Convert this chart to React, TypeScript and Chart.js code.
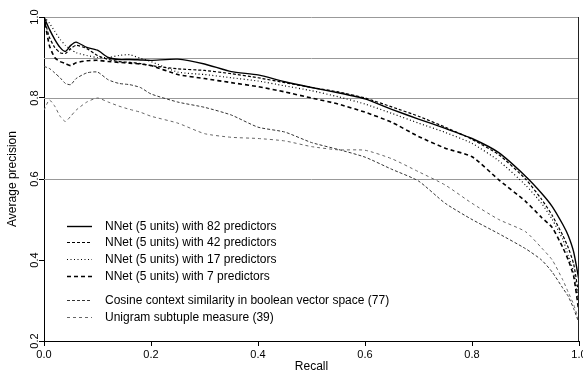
import React, { useEffect, useRef } from "react";
import { Chart, registerables } from "chart.js";

Chart.register(...registerables);

const recall = [0, 0.01, 0.02, 0.03, 0.04, 0.05, 0.06, 0.08, 0.10, 0.12, 0.14, 0.16, 0.18, 0.20, 0.25, 0.30, 0.35, 0.40, 0.45, 0.50, 0.55, 0.60, 0.65, 0.70, 0.75, 0.80, 0.85, 0.90, 0.93, 0.95, 0.97, 0.98, 0.99, 1.0];

const nnet82 = [1.0, 0.97, 0.945, 0.925, 0.915, 0.93, 0.938, 0.925, 0.918, 0.90, 0.895, 0.895, 0.894, 0.893, 0.896, 0.884, 0.865, 0.857, 0.84, 0.826, 0.813, 0.798, 0.772, 0.748, 0.725, 0.70, 0.665, 0.607, 0.565, 0.532, 0.487, 0.46, 0.42, 0.35];
const nnet42 = [1.0, 0.95, 0.925, 0.912, 0.91, 0.922, 0.93, 0.922, 0.905, 0.895, 0.89, 0.888, 0.885, 0.88, 0.872, 0.868, 0.86, 0.85, 0.838, 0.826, 0.815, 0.80, 0.778, 0.755, 0.728, 0.698, 0.66, 0.60, 0.55, 0.51, 0.46, 0.43, 0.39, 0.31];
const nnet17 = [1.0, 0.985, 0.965, 0.945, 0.93, 0.92, 0.912, 0.905, 0.90, 0.90, 0.905, 0.907, 0.898, 0.89, 0.864, 0.858, 0.85, 0.842, 0.83, 0.818, 0.803, 0.785, 0.762, 0.738, 0.715, 0.688, 0.645, 0.585, 0.54, 0.50, 0.45, 0.41, 0.37, 0.29];
const nnet7 = [1.0, 0.93, 0.90, 0.89, 0.885, 0.88, 0.887, 0.892, 0.893, 0.89, 0.888, 0.886, 0.884, 0.88, 0.858, 0.848, 0.838, 0.828, 0.815, 0.80, 0.785, 0.765, 0.74, 0.705, 0.676, 0.655, 0.598, 0.545, 0.505, 0.48, 0.43, 0.40, 0.36, 0.27];
const cosine77 = [0.878, 0.873, 0.862, 0.85, 0.836, 0.833, 0.848, 0.862, 0.864, 0.845, 0.836, 0.833, 0.826, 0.81, 0.79, 0.777, 0.758, 0.728, 0.716, 0.69, 0.673, 0.654, 0.624, 0.595, 0.54, 0.50, 0.465, 0.428, 0.40, 0.37, 0.33, 0.31, 0.28, 0.244];
const unigram39 = [0.77, 0.795, 0.78, 0.755, 0.742, 0.755, 0.77, 0.79, 0.80, 0.79, 0.78, 0.772, 0.765, 0.755, 0.738, 0.712, 0.703, 0.70, 0.694, 0.68, 0.672, 0.671, 0.65, 0.618, 0.585, 0.54, 0.50, 0.47, 0.43, 0.40, 0.35, 0.32, 0.29, 0.25];

const seriesNames = [
  "NNet (5 units) with 82 predictors",
  "NNet (5 units) with 42 predictors",
  "NNet (5 units) with 17 predictors",
  "NNet (5 units) with 7 predictors",
  "Cosine context similarity in boolean vector space (77)",
  "Unigram subtuple measure (39)",
];

const xTicks = [0, 0.2, 0.4, 0.6, 0.8, 1.0];
const yTicks = [0.2, 0.4, 0.6, 0.8, 1.0];
const refLines = [0.6, 0.8, 0.9, 1.0];

const FONT = "'Liberation Sans', Arial, Helvetica, sans-serif";

const styles = [
  { color: "#000", width: 1.4, dash: [] as number[] },
  { color: "#000", width: 1.2, dash: [3, 2] },
  { color: "#000", width: 1.2, dash: [1, 2.5] },
  { color: "#000", width: 1.6, dash: [4, 3] },
  { color: "#333", width: 1, dash: [3, 2] },
  { color: "#666", width: 1, dash: [3, 3] },
];

const legendRows = [226, 242, 259, 276, 300, 317];

const decorPlugin = {
  id: "decor",
  beforeDatasetsDraw(chart: any) {
    const { ctx, chartArea, scales } = chart;
    const y = scales.y;
    ctx.save();
    ctx.strokeStyle = "#999";
    ctx.lineWidth = 1;
    refLines.forEach((v) => {
      const py = Math.round(y.getPixelForValue(v)) + 0.5;
      ctx.beginPath();
      ctx.moveTo(chartArea.left, py);
      ctx.lineTo(chartArea.right, py);
      ctx.stroke();
    });
    ctx.restore();
  },
  afterDraw(chart: any) {
    const { ctx, chartArea, scales } = chart;
    const x = scales.x;
    const y = scales.y;
    ctx.save();
    ctx.strokeStyle = "#222";
    ctx.lineWidth = 1;
    const rx = Math.round(x.getPixelForValue(1)) - 0.5;
    ctx.beginPath();
    ctx.moveTo(rx, chartArea.top);
    ctx.lineTo(rx, chartArea.bottom);
    ctx.stroke();

    ctx.fillStyle = "#000";
    ctx.font = `11px ${FONT}`;
    ctx.textAlign = "center";
    ctx.textBaseline = "middle";
    yTicks.forEach((v) => {
      const py = y.getPixelForValue(v);
      ctx.save();
      ctx.translate(35, py);
      ctx.rotate(-Math.PI / 2);
      ctx.fillText(v.toFixed(1), 0, 0);
      ctx.restore();
    });

    ctx.font = `12px ${FONT}`;
    ctx.fillText("Recall", (chartArea.left + chartArea.right) / 2, 367);
    ctx.save();
    ctx.translate(13, (chartArea.top + chartArea.bottom) / 2);
    ctx.rotate(-Math.PI / 2);
    ctx.fillText("Average precision", 0, 0);
    ctx.restore();

    ctx.textAlign = "left";
    chart.data.datasets.forEach((ds: any, i: number) => {
      const ly = legendRows[i];
      ctx.strokeStyle = ds.borderColor;
      ctx.lineWidth = ds.borderWidth;
      ctx.setLineDash(ds.borderDash || []);
      ctx.beginPath();
      ctx.moveTo(67, ly + 0.5);
      ctx.lineTo(92, ly + 0.5);
      ctx.stroke();
      ctx.setLineDash([]);
      ctx.fillStyle = "#000";
      ctx.fillText(ds.label, 105, ly + 1);
    });
    ctx.restore();
  },
};

export default function App() {
  const ref = useRef<HTMLCanvasElement | null>(null);
  useEffect(() => {
    if (!ref.current) return;
    const all = [nnet82, nnet42, nnet17, nnet7, cosine77, unigram39];
    const chart = new Chart(ref.current, {
      type: "line",
      data: {
        datasets: all.map((vals, i) => ({
          label: seriesNames[i],
          data: recall.map((r, j) => ({ x: r, y: vals[j] })),
          borderColor: styles[i].color,
          borderWidth: styles[i].width,
          borderDash: styles[i].dash,
          pointRadius: 0,
          fill: false,
          tension: 0.2,
        })),
      },
      options: {
        responsive: false,
        animation: false,
        layout: { padding: { top: 17, right: 4, left: 0, bottom: 0 } },
        plugins: { legend: { display: false }, tooltip: { enabled: false } },
        scales: {
          x: {
            type: "linear",
            min: 0,
            max: 1,
            afterBuildTicks: (s: any) => {
              s.ticks = xTicks.map((v) => ({ value: v }));
            },
            afterFit: (s: any) => {
              s.height = 35;
              s.paddingLeft = 0;
              s.paddingRight = 0;
            },
            ticks: {
              color: "#000",
              font: { size: 11, family: FONT },
              padding: 2,
              maxRotation: 0,
              callback: (v: any) => Number(v).toFixed(1),
            },
            grid: { drawOnChartArea: false, tickLength: 5, color: "#000" },
            border: { color: "#000", width: 1 },
          },
          y: {
            type: "linear",
            min: 0.2,
            max: 1.0,
            afterBuildTicks: (s: any) => {
              s.ticks = yTicks.map((v) => ({ value: v }));
            },
            afterFit: (s: any) => {
              s.width = 44;
              s.paddingTop = 0;
              s.paddingBottom = 0;
            },
            ticks: { color: "rgba(0,0,0,0)", font: { size: 11, family: FONT } },
            grid: { drawOnChartArea: false, tickLength: 5, color: "#000" },
            border: { color: "#000", width: 1 },
          },
        },
      },
      plugins: [decorPlugin],
    });
    return () => chart.destroy();
  }, []);
  return (
    <div style={{ position: "fixed", left: 0, top: 0, width: 583, height: 376, background: "#fff" }}>
      <canvas ref={ref} width={583} height={376} />
    </div>
  );
}
